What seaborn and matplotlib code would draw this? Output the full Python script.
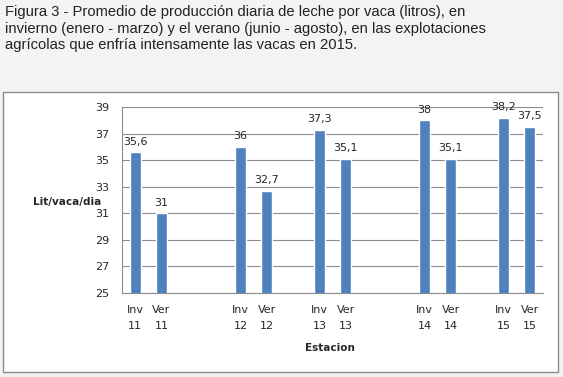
import numpy as np
import pandas as pd
import matplotlib
matplotlib.use("Agg")
import matplotlib.pyplot as plt
from matplotlib.patches import Rectangle
import seaborn as sns

# slots on the x axis, blanks ("_gN") keep the Excel-style gaps
slots = ["Inv\n11", "Ver\n11", "_g1", "_g2", "Inv\n12", "Ver\n12", "_g3",
         "Inv\n13", "Ver\n13", "_g4", "_g5", "Inv\n14", "Ver\n14", "_g6",
         "Inv\n15", "Ver\n15"]
seasons = ["Inv\n11", "Ver\n11", "Inv\n12", "Ver\n12", "Inv\n13", "Ver\n13",
           "Inv\n14", "Ver\n14", "Inv\n15", "Ver\n15"]
litros = [35.6, 31.0, 36.0, 32.7, 37.3, 35.1, 38.0, 35.1, 38.2, 37.5]
y_ticks = [25, 27, 29, 31, 33, 35, 37, 39]

df = pd.DataFrame({"estacion": seasons, "litros": litros})

sns.set_style("white")
plt.rcParams["font.family"] = ["DejaVu Sans"]

W, H = 563, 377
fig = plt.figure(figsize=(W / 100, H / 100), dpi=100)
fig.patch.set_facecolor("#f3f3f3")

# white chart box
fig.patches.append(Rectangle((3 / W, 1 - 372 / H), 555 / W, 280 / H,
                             transform=fig.transFigure, facecolor="white",
                             edgecolor="#8c8c8c", linewidth=1.0, zorder=-5))

title = ("Figura 3 - Promedio de producción diaria de leche por vaca (litros), en\n"
         "invierno (enero - marzo) y el verano (junio - agosto), en las explotaciones\n"
         "agrícolas que enfría intensamente las vacas en 2015.")
fig.text(5 / W, 1 - 5 / H, title, ha="left", va="top", fontsize=10.6,
         family="Liberation Sans", color="#222222", linespacing=1.25)

ax = fig.add_axes([122 / W, 1 - 293 / H, 421 / W, 186 / H])
ax.set_facecolor("white")
sns.barplot(data=df, x="estacion", y="litros", order=slots, color="#4f81bd",
            width=0.42, saturation=1, ax=ax, zorder=3)

ax.set_ylim(25, 39)
ax.set_yticks(y_ticks)
ax.set_xlim(-0.5, len(slots) - 0.5)
ax.yaxis.grid(True, color="#8c8c8c", linewidth=0.8)
ax.set_axisbelow(True)

ax.set_xticks(range(len(slots)))
ax.set_xticklabels(["" if s.startswith("_") else s for s in slots],
                   fontsize=8, linespacing=1.75)
ax.set_xticks(np.arange(-0.5, len(slots), 1), minor=True)
ax.tick_params(axis="x", which="major", length=0, pad=8.5)
ax.tick_params(axis="x", which="minor", length=4, color="#8c8c8c", width=0.8)
ax.tick_params(axis="y", length=4, color="#8c8c8c", width=0.8, labelsize=8, pad=5)

for side in ["top", "right"]:
    ax.spines[side].set_visible(False)
for side in ["left", "bottom"]:
    ax.spines[side].set_color("#8c8c8c")
    ax.spines[side].set_linewidth(0.8)

for i, s in enumerate(slots):
    if s in seasons:
        v = litros[seasons.index(s)]
        ax.annotate(f"{v:g}".replace(".", ","), (i, v), xytext=(0, 4),
                    textcoords="offset points", ha="center", va="bottom",
                    fontsize=8, zorder=4)

ax.set_ylabel("Lit/vaca/dia", rotation=0, fontsize=7.5, fontweight="bold",
              ha="center", va="center", labelpad=0)
ax.yaxis.set_label_coords(-0.13, 0.49)
ax.set_xlabel("Estacion", fontsize=7.5, fontweight="bold")
ax.xaxis.set_label_coords(0.495, -0.27)

fig.savefig("out.png", dpi=100, facecolor=fig.get_facecolor())
